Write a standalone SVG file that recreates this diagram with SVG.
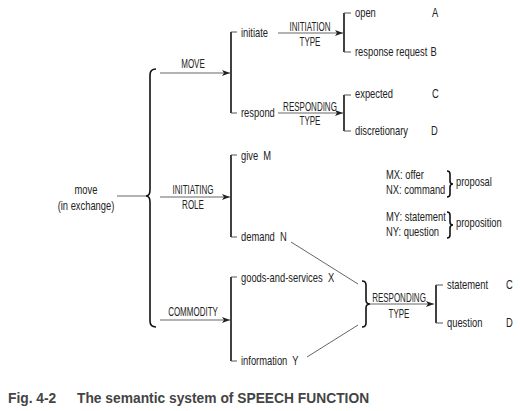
<svg xmlns="http://www.w3.org/2000/svg" width="520" height="411" viewBox="0 0 520 411">
<defs>
<marker id="ah" viewBox="0 0 8 6" refX="8" refY="3" markerWidth="8" markerHeight="6" markerUnits="userSpaceOnUse" orient="auto">
<path d="M0,0 L8,3 L0,6 L2,3 Z" fill="#222"/>
</marker>
</defs>
<style>
text{font-family:"Liberation Sans",Arial,sans-serif;font-size:12.5px;fill:#222}
.k{font-size:12.5px}
.c{text-anchor:middle}
.arr{stroke:#666;stroke-width:1;fill:none;marker-end:url(#ah)}
.br{stroke:#111;stroke-width:1.6;fill:none}
.tk{stroke:#555;stroke-width:1;fill:none}
.ln{stroke:#555;stroke-width:0.9;fill:none}
.cap{font-family:"Liberation Sans",Arial,sans-serif;font-weight:bold;font-size:13.8px;fill:#444}
</style>
<rect width="520" height="411" fill="#fff"/>

<g id="connectors">
<line class="ln" x1="117" y1="196" x2="146" y2="196"/>
<path class="br" d="M156 69 Q150 69 150 75 L150 190 Q150 196 146 196 Q150 196 150 202 L150 321 Q150 327 156 327"/>
<line class="arr" x1="160" y1="73" x2="230" y2="73"/>
<line class="arr" x1="160" y1="197" x2="230" y2="197"/>
<line class="arr" x1="160" y1="320" x2="230" y2="320"/>
<line class="br" x1="231" y1="32" x2="231" y2="113"/>
<path class="tk" d="M231 32 H237 M231 113 H237"/>
<line class="br" x1="231" y1="155" x2="231" y2="237"/>
<path class="tk" d="M231 155 H237 M231 237 H237"/>
<line class="br" x1="231" y1="277" x2="231" y2="361"/>
<path class="tk" d="M231 277 H237 M231 361 H237"/>
<line class="arr" x1="278" y1="33" x2="343" y2="33"/>
<line class="br" x1="344" y1="13" x2="344" y2="52"/>
<path class="tk" d="M344 13 H351 M344 52 H351"/>
<line class="arr" x1="278" y1="113" x2="343" y2="113"/>
<line class="br" x1="344" y1="95" x2="344" y2="131"/>
<path class="tk" d="M344 95 H351 M344 131 H351"/>
<line class="ln" x1="291" y1="242" x2="358" y2="284"/>
<line class="ln" x1="307" y1="357" x2="358" y2="325"/>
<path class="br" d="M362 281 Q366 281 366 285 L366 300 Q366 304 370 304 Q366 304 366 308 L366 323 Q366 327 362 327"/>
<line class="arr" x1="370" y1="304" x2="434" y2="304"/>
<line class="br" x1="436" y1="285" x2="436" y2="323"/>
<path class="tk" d="M436 285 H443 M436 323 H443"/>
<path class="br" d="M447 171 Q450 171 450 174 L450 181 Q450 184 453 184 Q450 184 450 187 L450 194 Q450 197 447 197" stroke-width="1.2"/>
<path class="br" d="M447 212 Q450 212 450 215 L450 222 Q450 225 453 225 Q450 225 450 228 L450 235 Q450 238 447 238" stroke-width="1.2"/>
</g>

<g id="move-root" transform="scale(0.75 1)"><text class="c" x="114.67" y="194">move</text><text class="c" x="114.67" y="210">(in exchange)</text></g>
<g id="label-move" transform="scale(0.64 1)"><text class="c k" x="301.56" y="68">MOVE</text></g>
<g id="label-initiating-role" transform="scale(0.64 1)"><text class="c k" x="301.56" y="194">INITIATING</text><text class="c k" x="301.56" y="209">ROLE</text></g>
<g id="label-commodity" transform="scale(0.64 1)"><text class="c k" x="301.56" y="316">COMMODITY</text></g>
<g id="initiate" transform="scale(0.75 1)"><text x="321.33" y="37">initiate</text></g>
<g id="respond" transform="scale(0.75 1)"><text x="321.33" y="117">respond</text></g>
<g id="give" transform="scale(0.75 1)"><text x="321.33" y="160">give&#160; M</text></g>
<g id="demand" transform="scale(0.75 1)"><text x="321.33" y="241">demand&#160; N</text></g>
<g id="goods" transform="scale(0.75 1)"><text x="321.33" y="282">goods-and-services&#160; X</text></g>
<g id="information" transform="scale(0.75 1)"><text x="321.33" y="365">information&#160; Y</text></g>
<g id="label-initiation-type" transform="scale(0.64 1)"><text class="c k" x="484.38" y="31">INITIATION</text><text class="c k" x="484.38" y="46">TYPE</text></g>
<g id="label-responding-type-1" transform="scale(0.64 1)"><text class="c k" x="484.38" y="111">RESPONDING</text><text class="c k" x="484.38" y="125">TYPE</text></g>
<g id="open" transform="scale(0.75 1)"><text x="473.33" y="17">open</text><text x="576" y="17">A</text></g>
<g id="response-request" transform="scale(0.75 1)"><text x="473.33" y="56">response request</text><text x="574" y="56">B</text></g>
<g id="expected" transform="scale(0.75 1)"><text x="473.33" y="98">expected</text><text x="576" y="98">C</text></g>
<g id="discretionary" transform="scale(0.75 1)"><text x="473.33" y="135">discretionary</text><text x="574.67" y="135">D</text></g>
<g id="proposal" transform="scale(0.75 1)"><text x="514.67" y="179">MX: offer</text><text x="514.67" y="194">NX: command</text><text x="608" y="186">proposal</text></g>
<g id="proposition" transform="scale(0.75 1)"><text x="514.67" y="221">MY: statement</text><text x="514.67" y="236">NY: question</text><text x="608" y="227">proposition</text></g>
<g id="label-responding-type-2" transform="scale(0.64 1)"><text class="c k" x="623.44" y="302">RESPONDING</text><text class="c k" x="623.44" y="318">TYPE</text></g>
<g id="statement" transform="scale(0.75 1)"><text x="596" y="289">statement</text><text x="674.67" y="289">C</text></g>
<g id="question" transform="scale(0.75 1)"><text x="596" y="327">question</text><text x="674.67" y="327">D</text></g>
<g id="caption"><text class="cap" x="8" y="403">Fig. 4-2</text><text class="cap" x="77" y="403">The semantic system of SPEECH FUNCTION</text></g>
</svg>
